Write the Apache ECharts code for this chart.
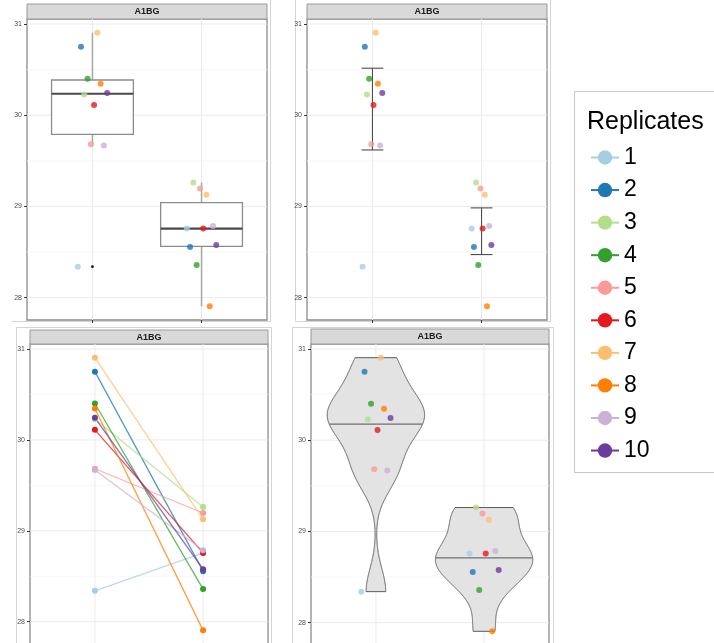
<!DOCTYPE html>
<html><head><meta charset="utf-8">
<script src="https://cdn.jsdelivr.net/npm/echarts@6/dist/echarts.min.js"></script>
<style>html,body{margin:0;padding:0;background:#fff}#c{width:714px;height:643px}</style>
</head><body><div id="c"></div>
<script>
// ---------------- data ----------------
const groups = [1, 2];
const replicates = ['1', '2', '3', '4', '5', '6', '7', '8', '9', '10'];
const group1Values = [28.34, 30.751, 30.228, 30.40, 29.683, 30.111, 30.905, 30.345, 29.668, 30.243];
const group2Values = [28.757, 28.556, 29.262, 28.359, 29.196, 28.757, 29.127, 27.905, 28.786, 28.578];
const yTicks = [28, 29, 30, 31];
const yMinorTicks = [28.5, 29.5, 30.5];
const stripLabel = 'A1BG';
const legendTitle = 'Replicates';

// ---------------- styles / layout ----------------
const colors = ['#A6CEE3', '#1F78B4', '#B2DF8A', '#33A02C', '#FB9A99', '#E31A1C', '#FDBF6F', '#FF7F00', '#CAB2D6', '#6A3D9A'];
const FONT = 'Liberation Sans, Arial, Helvetica, sans-serif';
const X_MIN = 0.4, X_MAX = 2.6, Y_MIN = 27.755, Y_MAX = 31.055;
const panels = [
  { left: 27, top: 19, width: 240, height: 301, strip: [27, 4, 240, 15] },
  { left: 307, top: 19, width: 240, height: 301, strip: [307, 4, 240, 15] },
  { left: 30, top: 344, width: 238, height: 300, strip: [30, 330, 238, 14] },
  { left: 311, top: 344, width: 238, height: 301, strip: [311, 329, 238, 15] }
];

// ---------------- derived statistics ----------------
const groupValues = [group1Values, group2Values];
function quantile7(arr, p) {
  const s = [...arr].sort((a, b) => a - b);
  const h = (s.length - 1) * p, lo = Math.floor(h);
  const hi = Math.min(lo + 1, s.length - 1);
  return s[lo] + (h - lo) * (s[hi] - s[lo]);
}
function mean(a) { return a.reduce((s, v) => s + v, 0) / a.length; }
function sdev(a) { const m = mean(a); return Math.sqrt(a.reduce((s, v) => s + (v - m) * (v - m), 0) / (a.length - 1)); }
function boxStats(vals) {
  const q1 = quantile7(vals, 0.25), med = quantile7(vals, 0.5), q3 = quantile7(vals, 0.75), iqr = q3 - q1;
  const inside = vals.filter(v => v >= q1 - 1.5 * iqr && v <= q3 + 1.5 * iqr);
  return { q1, med, q3, lo: Math.min(...inside), hi: Math.max(...inside),
    out: vals.filter(v => v < q1 - 1.5 * iqr || v > q3 + 1.5 * iqr) };
}
function ciStats(vals) {
  const m = mean(vals), se = sdev(vals) / Math.sqrt(vals.length);
  return { m, lo: m - 1.96 * se, hi: m + 1.96 * se };
}
function violinStats(vals) {
  const n = vals.length;
  const bw = 0.9 * Math.min(sdev(vals), (quantile7(vals, 0.75) - quantile7(vals, 0.25)) / 1.34) * Math.pow(n, -0.2);
  const lo = Math.min(...vals), hi = Math.max(...vals), N = 512;
  const ys = [], ds = [];
  for (let k = 0; k < N; k++) {
    const y = lo + (hi - lo) * k / (N - 1);
    let d = 0;
    for (const v of vals) { const z = (y - v) / bw; d += Math.exp(-0.5 * z * z); }
    ys.push(y); ds.push(d / (n * bw * Math.sqrt(2 * Math.PI)));
  }
  const maxD = Math.max(...ds);
  const tot = ds.reduce((s, v) => s + v, 0);
  let c = 0; const cum = ds.map(v => (c += v) / tot);
  let qy = ys[0], qw = ds[0] / maxD;
  for (let k = 1; k < N; k++) {
    if (cum[k] >= 0.5) {
      const t = (0.5 - cum[k - 1]) / (cum[k] - cum[k - 1]);
      qy = ys[k - 1] + t * (ys[k] - ys[k - 1]);
      qw = (ds[k - 1] + t * (ds[k] - ds[k - 1])) / maxD;
      break;
    }
  }
  return { ys, w: ds.map(d => d / maxD), qy, qw };
}
const boxes = groupValues.map(boxStats);
const cis = groupValues.map(ciStats);
const violins = groupValues.map(violinStats);

function dodged(width) {
  const pts = [];
  groupValues.forEach((vals, gi) => vals.forEach((v, i) => {
    pts.push({ value: [groups[gi] + (i - 4.5) * width / 10, v], itemStyle: { color: colors[i] } });
  }));
  return pts;
}

// ---------------- series ----------------
function gridLines(idx) {
  const data = [];
  yTicks.forEach(v => data.push([1, v, 0]));
  yMinorTicks.forEach(v => data.push([1, v, 1]));
  groups.forEach(g => data.push([g, 29, 2]));
  return {
    type: 'custom', xAxisIndex: idx, yAxisIndex: idx, silent: true, z: 1, data,
    renderItem: (p, api) => {
      const k = api.value(2);
      let a, b;
      if (k === 2) { a = api.coord([api.value(0), Y_MIN]); b = api.coord([api.value(0), Y_MAX]); }
      else { a = api.coord([X_MIN, api.value(1)]); b = api.coord([X_MAX, api.value(1)]); }
      return { type: 'line', shape: { x1: a[0], y1: a[1], x2: b[0], y2: b[1] },
        style: { stroke: k === 1 ? '#f5f5f5' : '#ebebeb', lineWidth: k === 1 ? 0.8 : 1 } };
    }
  };
}

const series = [0, 1, 2, 3].map(gridLines);

// Panel 1: boxplot
series.push({
  type: 'custom', xAxisIndex: 0, yAxisIndex: 0, silent: true, z: 2,
  data: groups.map((g, i) => [g, boxes[i].med]),
  renderItem: (p, api) => {
    const gi = p.dataIndex, g = groups[gi], b = boxes[gi];
    const tl = api.coord([g - 0.375, b.q3]), br = api.coord([g + 0.375, b.q1]);
    const hi = api.coord([g, b.hi]), lo = api.coord([g, b.lo]);
    const m1 = api.coord([g - 0.375, b.med]), m2 = api.coord([g + 0.375, b.med]);
    const children = [
      { type: 'line', shape: { x1: hi[0], y1: hi[1], x2: hi[0], y2: tl[1] }, style: { stroke: '#a6a6a6', lineWidth: 1.5 } },
      { type: 'line', shape: { x1: lo[0], y1: lo[1], x2: lo[0], y2: br[1] }, style: { stroke: '#a6a6a6', lineWidth: 1.5 } },
      { type: 'rect', shape: { x: tl[0], y: tl[1], width: br[0] - tl[0], height: br[1] - tl[1] },
        style: { fill: '#ffffff', stroke: '#8c8c8c', lineWidth: 1.3 } },
      { type: 'line', shape: { x1: m1[0], y1: m1[1], x2: m2[0], y2: m2[1] }, style: { stroke: '#4a4a4a', lineWidth: 2.2 } }
    ];
    b.out.forEach(v => { const o = api.coord([g, v]); children.push({ type: 'circle', shape: { cx: o[0], cy: o[1], r: 1.4 }, style: { fill: '#1a1a1a' } }); });
    return { type: 'group', children };
  }
});
series.push({ type: 'scatter', xAxisIndex: 0, yAxisIndex: 0, z: 3, symbolSize: 6, silent: true, data: dodged(0.3) });

// Panel 2: mean with error bars
series.push({
  type: 'custom', xAxisIndex: 1, yAxisIndex: 1, silent: true, z: 2,
  data: groups.map((g, i) => [g, cis[i].m]),
  renderItem: (p, api) => {
    const gi = p.dataIndex, g = groups[gi], c = cis[gi];
    const t = api.coord([g, c.hi]), b = api.coord([g, c.lo]);
    const tl = api.coord([g - 0.1, c.hi]), tr = api.coord([g + 0.1, c.hi]);
    const bl = api.coord([g - 0.1, c.lo]), brr = api.coord([g + 0.1, c.lo]);
    const st = { stroke: '#4d4d4d', lineWidth: 1.1 };
    return { type: 'group', children: [
      { type: 'line', shape: { x1: t[0], y1: t[1], x2: b[0], y2: b[1] }, style: st },
      { type: 'line', shape: { x1: tl[0], y1: tl[1], x2: tr[0], y2: tr[1] }, style: st },
      { type: 'line', shape: { x1: bl[0], y1: bl[1], x2: brr[0], y2: brr[1] }, style: st }
    ] };
  }
});
series.push({ type: 'scatter', xAxisIndex: 1, yAxisIndex: 1, z: 3, symbolSize: 6, silent: true, data: dodged(0.2) });

// Panel 3: paired lines
replicates.forEach((r, i) => {
  series.push({
    type: 'line', name: r, xAxisIndex: 2, yAxisIndex: 2, z: 3,
    data: [[groups[0], group1Values[i]], [groups[1], group2Values[i]]],
    color: colors[i], symbol: 'circle', symbolSize: 6, showSymbol: true,
    lineStyle: { width: 1.3, opacity: 0.75, color: colors[i] },
    itemStyle: { color: colors[i], opacity: 1 },
    emphasis: { disabled: true }, silent: true
  });
});

// Panel 4: violins
series.push({
  type: 'custom', xAxisIndex: 3, yAxisIndex: 3, silent: true, z: 2,
  data: groups.map((g, i) => [g, violins[i].qy]),
  renderItem: (p, api) => {
    const gi = p.dataIndex, g = groups[gi], v = violins[gi];
    const right = [], left = [];
    for (let k = 0; k < v.ys.length; k++) {
      right.push(api.coord([g + 0.45 * v.w[k], v.ys[k]]));
      left.push(api.coord([g - 0.45 * v.w[k], v.ys[k]]));
    }
    const pts = right.concat(left.reverse());
    const a = api.coord([g - 0.45 * v.qw, v.qy]), b = api.coord([g + 0.45 * v.qw, v.qy]);
    return { type: 'group', children: [
      { type: 'polygon', shape: { points: pts }, style: { fill: '#e3e3e3', stroke: '#5a5a5a', lineWidth: 1 } },
      { type: 'line', shape: { x1: a[0], y1: a[1], x2: b[0], y2: b[1] }, style: { stroke: '#6e6e6e', lineWidth: 1.2 } }
    ] };
  }
});
series.push({ type: 'scatter', xAxisIndex: 3, yAxisIndex: 3, z: 3, symbolSize: 6, silent: true, data: dodged(0.3) });

// ---------------- axes ----------------
const grid = panels.map(p => ({ left: p.left, top: p.top, width: p.width, height: p.height, show: true,
  backgroundColor: '#ffffff', borderColor: '#8c8c8c', borderWidth: 1.3, containLabel: false, outerBoundsMode: 'none' }));
const xAxis = panels.map((p, i) => ({
  gridIndex: i, type: 'value', min: X_MIN, max: X_MAX,
  axisLine: { show: false }, splitLine: { show: false },
  axisLabel: { show: false, customValues: groups },
  axisTick: { show: i < 2, customValues: groups, length: 3, lineStyle: { color: '#333333', width: 1 } }
}));
const yAxis = panels.map((p, i) => ({
  gridIndex: i, type: 'value', min: Y_MIN, max: Y_MAX,
  axisLine: { show: false }, splitLine: { show: false },
  axisTick: { show: true, customValues: yTicks, length: 3, lineStyle: { color: '#333333', width: 1 } },
  axisLabel: { customValues: yTicks, fontSize: 7, color: '#4d4d4d', margin: 5, fontFamily: FONT }
}));

// ---------------- decorations ----------------
const frameColor = '#d4d4d4';
function vline(x, y1, y2) { return { type: 'line', silent: true, shape: { x1: x, y1, x2: x, y2 }, style: { stroke: frameColor, lineWidth: 1 } }; }
function hline(y, x1, x2) { return { type: 'line', silent: true, shape: { x1, y1: y, x2, y2: y }, style: { stroke: frameColor, lineWidth: 1 } }; }
const graphics = [
  vline(270.5, 0, 321.5), hline(321.5, 12, 270.5),
  vline(295.5, 0, 321.5), vline(550.5, 0, 321.5), hline(321.5, 295.5, 550.5),
  hline(327.5, 16.5, 271.5), vline(16.5, 327.5, 643), vline(271.5, 327.5, 643),
  hline(327.5, 292.5, 553.5), vline(292.5, 327.5, 643), vline(553.5, 327.5, 643),
  { type: 'rect', silent: true, shape: { x: 574.5, y: 91.5, width: 160, height: 381 }, style: { fill: 'none', stroke: '#c8c8c8', lineWidth: 1 } },
  { type: 'text', silent: true, style: { text: legendTitle, x: 587, y: 122, align: 'left', verticalAlign: 'middle',
      textAlign: 'left', textVerticalAlign: 'middle', fontSize: 25, fontFamily: FONT, fill: '#000000' } }
];
panels.forEach(p => {
  const [sx, sy, sw, sh] = p.strip;
  graphics.push({ type: 'rect', silent: true, shape: { x: sx, y: sy, width: sw, height: sh },
    style: { fill: '#d9d9d9', stroke: '#9a9a9a', lineWidth: 1 } });
  graphics.push({ type: 'text', silent: true, style: { text: stripLabel, x: sx + sw / 2, y: sy + sh / 2 + 0.5,
    align: 'center', verticalAlign: 'middle', textAlign: 'center', textVerticalAlign: 'middle',
    fontSize: 9, fontWeight: 'bold', fontFamily: FONT, fill: '#1a1a1a' } });
});

const chart = echarts.init(document.getElementById('c'), null, { renderer: 'canvas' });
chart.setOption({
  animation: false,
  backgroundColor: '#ffffff',
  grid, xAxis, yAxis, series,
  legend: {
    orient: 'vertical', left: 590, top: 146, padding: 0,
    itemWidth: 28, itemHeight: 18, itemGap: 9.56, selectedMode: false,
    data: replicates,
    lineStyle: { width: 2, opacity: 1 },
    itemStyle: { opacity: 1, borderWidth: 0 },
    textStyle: { fontSize: 23, color: '#000000', lineHeight: 18, fontFamily: FONT }
  },
  graphic: { elements: graphics }
});
</script>
</body></html>
